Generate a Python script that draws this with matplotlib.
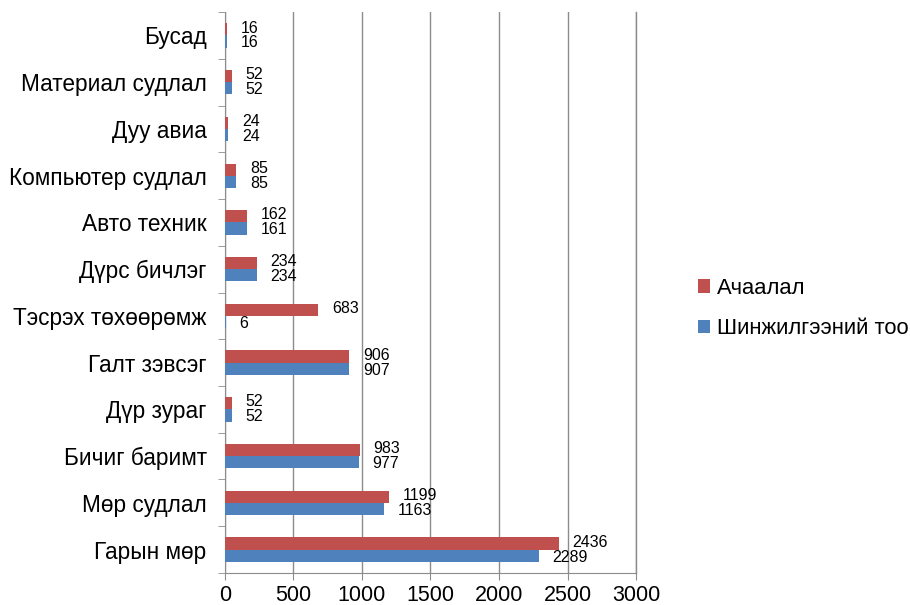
import matplotlib.pyplot as plt
import numpy as np

plt.rcParams['font.family'] = ['Liberation Sans', 'DejaVu Sans']

categories = ['Гарын мөр', 'Мөр судлал', 'Бичиг баримт', 'Дүр зураг', 'Галт зэвсэг',
              'Тэсрэх төхөөрөмж', 'Дүрс бичлэг', 'Авто техник', 'Компьютер судлал',
              'Дуу авиа', 'Материал судлал', 'Бусад']
achaalal = [2436, 1199, 983, 52, 906, 683, 234, 162, 85, 24, 52, 16]
shinjilgee = [2289, 1163, 977, 52, 907, 6, 234, 161, 85, 24, 52, 16]
series_names = ['Ачаалал', 'Шинжилгээний тоо']

red = '#C0504D'
blue = '#4F81BD'
grid_c = '#8C8C8C'

fig = plt.figure(figsize=(9.1, 6.05), dpi=100)
ax = fig.add_axes([0.247, 0.053, 0.452, 0.927])

y = np.arange(len(categories))
h = 0.26
ax.barh(y + h / 2, achaalal, height=h, color=red, label=series_names[0], zorder=3)
ax.barh(y - h / 2, shinjilgee, height=h, color=blue, label=series_names[1], zorder=3)

# подписи значений
for i in range(len(categories)):
    ax.annotate(str(achaalal[i]), (achaalal[i], y[i] + h / 2), xytext=(10, 1),
                textcoords='offset points', va='center', ha='left', fontsize=11.5)
    ax.annotate(str(shinjilgee[i]), (shinjilgee[i], y[i] - h / 2), xytext=(10, -1),
                textcoords='offset points', va='center', ha='left', fontsize=11.5)

ax.set_xlim(0, 3000)
ax.set_ylim(-0.5, len(categories) - 0.5)
ax.set_xticks(np.arange(0, 3001, 500))
ax.set_yticks(y)
ax.set_yticklabels(categories, fontsize=16.3)
ax.set_yticks(np.arange(-0.5, len(categories), 1), minor=True)
ax.tick_params(axis='y', which='major', length=0, pad=13)
ax.tick_params(axis='y', which='minor', length=5, color=grid_c, direction='out')
ax.tick_params(axis='x', labelsize=15.5, length=5, color=grid_c, pad=4)

ax.grid(axis='x', color=grid_c, linewidth=1, zorder=0)
ax.axvline(3000, color=grid_c, linewidth=1, zorder=0, clip_on=False)
for s in ['top', 'right']:
    ax.spines[s].set_visible(False)
for s in ['left', 'bottom']:
    ax.spines[s].set_color(grid_c)

fig.legend(loc='center left', bbox_to_anchor=(0.745, 0.49), frameon=False,
           fontsize=15.8, handlelength=0.55, handleheight=0.55, handletextpad=0.35,
           labelspacing=0.9)

fig.savefig('out.png', dpi=100)
